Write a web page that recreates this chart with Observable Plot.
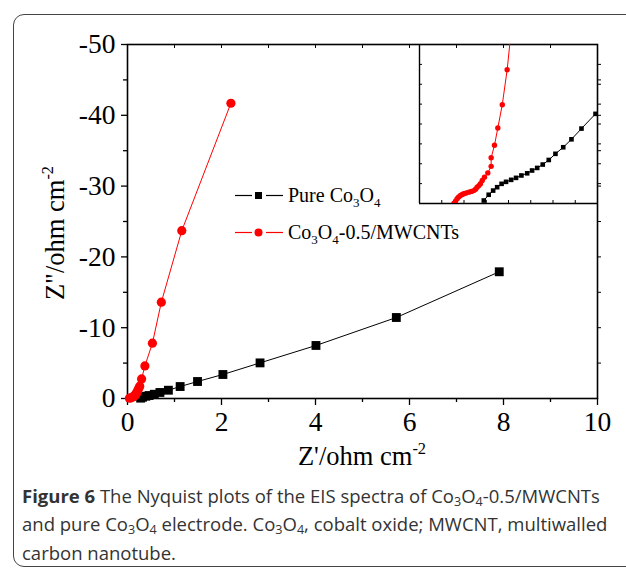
<!DOCTYPE html>
<html><head><meta charset="utf-8">
<script src="https://cdn.jsdelivr.net/npm/d3@7"></script>
<script src="https://cdn.jsdelivr.net/npm/@observablehq/plot@0.6"></script>
<style>
body{margin:0;background:#fff;}
#wrap{position:relative;width:626px;height:568px;overflow:hidden;font-family:"Liberation Serif",serif;}
#box{position:absolute;left:13px;top:14px;width:720px;height:553px;border:1.5px solid #444;border-radius:11px;box-sizing:border-box;}
#main{position:absolute;left:0;top:0;}
#inset{position:absolute;left:414px;top:39px;}
.lab{position:absolute;font-size:26.5px;white-space:nowrap;color:#000;line-height:1;}
.lab sup{font-size:0.62em;position:relative;top:-0.1em;vertical-align:top;}
#ylab{left:55px;top:233px;transform:translate(-50%,-50%) rotate(-90deg);}
#xlab{left:362px;top:456px;transform:translate(-50%,-50%);}
.leg{position:absolute;left:235px;font-size:20px;white-space:nowrap;display:flex;align-items:center;line-height:1;}
.leg svg{margin-right:5px;}
.leg sub{font-size:0.65em;position:relative;top:0.35em;vertical-align:baseline;}
#cap{position:absolute;left:22px;top:483px;font-family:"Open Sans",sans-serif;font-size:18.5px;line-height:25.3px;color:#333;white-space:nowrap;}
#cap sub{font-size:0.68em;vertical-align:baseline;position:relative;top:0.25em;}
</style></head>
<body>
<div id="wrap">
  <div id="box"></div>
  <div id="main"></div>
  <div id="inset"></div>
  <div class="lab" id="ylab">Z"/ohm cm<sup>-2</sup></div>
  <div class="lab" id="xlab">Z'/ohm cm<sup>-2</sup></div>
  <div class="leg" id="leg1" style="top:185px"></div>
  <div class="leg" id="leg2" style="top:222px"></div>
  <div id="cap"><b>Figure 6</b> The Nyquist plots of the EIS spectra of Co<sub>3</sub>O<sub>4</sub>-0.5/MWCNTs<br>and pure Co<sub>3</sub>O<sub>4</sub> electrode. Co<sub>3</sub>O<sub>4</sub>, cobalt oxide; MWCNT, multiwalled<br>carbon nanotube.</div>
</div>
<script>
// ---- main plot data (Z' in ohm cm^-2, Z'' in ohm cm^-2) ----
const seriesNames = ["Pure Co3O4", "Co3O4-0.5/MWCNTs"];
const blackX = [0.28, 0.32, 0.39, 0.46, 0.57, 0.69, 0.87, 1.12, 1.49, 2.03, 2.82, 4.01, 5.72, 7.91];
const blackY = [-0.05, -0.18, -0.32, -0.42, -0.6, -0.85, -1.17, -1.69, -2.40, -3.39, -5.03, -7.49, -11.44, -17.9];
const redX = [0.04, 0.08, 0.11, 0.13, 0.16, 0.175, 0.19, 0.2, 0.22, 0.24, 0.26, 0.30, 0.37, 0.53, 0.72, 1.155, 2.20];
const redY = [-0.05, -0.1, -0.2, -0.3, -0.4, -0.55, -0.7, -0.9, -1.17, -1.45, -1.74, -2.77, -4.6, -7.81, -13.6, -23.7, -41.7];
// ---- inset data (magnified view, arbitrary inset units) ----
const insetBlackX = [2.89, 3.11, 3.31, 3.49, 3.69, 3.89, 4.12, 4.34, 4.58, 4.84, 5.06, 5.29, 5.54, 5.81, 6.11, 6.46, 6.83, 7.28, 7.91];
const insetBlackY = [0.15, 0.44, 0.65, 0.82, 0.99, 1.09, 1.19, 1.29, 1.41, 1.52, 1.66, 1.79, 1.96, 2.19, 2.50, 2.83, 3.23, 3.77, 4.51];
const insetRedX = [1.54, 1.62, 1.69, 1.76, 1.84, 1.92, 1.99, 2.10, 2.22, 2.33, 2.44, 2.52, 2.59, 2.67, 2.74, 2.82, 2.92, 3.07, 3.22, 3.22, 3.37, 3.52, 3.72, 3.94, 4.24];
const insetRedY = [0.0, 0.12, 0.24, 0.33, 0.40, 0.45, 0.49, 0.53, 0.57, 0.61, 0.65, 0.72, 0.82, 0.90, 0.99, 1.16, 1.32, 1.54, 1.87, 2.30, 2.93, 3.80, 4.97, 6.73, 10.0];
// ---- ticks ----
const xMajor = [0, 2, 4, 6, 8, 10];
const xMinor = [1, 3, 5, 7, 9];
const xTop = [1, 2, 3, 4, 5, 6, 7, 8, 9];
const yMajor = [0, -10, -20, -30, -40, -50];
const yMinor = [-5, -15, -25, -35, -45];
const yRight = [-5, -10, -15, -20, -25, -30, -35, -40, -45];
const insetTicks = [1, 2, 3, 4, 5, 6, 7];

const black = blackX.map((x, i) => ({x, y: blackY[i]}));
const red = redX.map((x, i) => ({x, y: redY[i]}));
const iBlack = insetBlackX.map((x, i) => ({x, y: insetBlackY[i]}));
const iRed = insetRedX.map((x, i) => ({x, y: insetRedY[i]}));
const none = () => "";

const main = Plot.plot({
  width: 626, height: 470,
  marginLeft: 127, marginRight: 29, marginTop: 44, marginBottom: 72,
  x: {domain: [0, 10]},
  y: {domain: [0, -50]},
  style: {fontFamily: "Liberation Serif, serif", fontSize: "27.5px", color: "black", background: "transparent", overflow: "visible"},
  marks: [
    Plot.axisX({ticks: xMajor, tickSize: 7, tickPadding: 6, tickFormat: d => String(d), label: null, strokeWidth: 1.3}),
    Plot.axisX({ticks: xMinor, tickSize: 4, tickFormat: none, label: null, strokeWidth: 1.3}),
    Plot.axisX({ticks: xTop, anchor: "top", tickSize: 3, dy: 3, tickFormat: none, label: null, strokeWidth: 1}),
    Plot.axisY({ticks: yMajor, tickSize: 6, tickPadding: 6, tickFormat: d => String(d), label: null, strokeWidth: 1.3}),
    Plot.axisY({ticks: yMinor, tickSize: 4, tickFormat: none, label: null, strokeWidth: 1.3}),
    Plot.axisY({ticks: yRight, anchor: "right", tickSize: 3, tickFormat: none, label: null, strokeWidth: 1}),
    Plot.frame({stroke: "black", strokeWidth: 1.6}),
    Plot.line(black, {x: "x", y: "y", stroke: "black", strokeWidth: 1}),
    Plot.dot(black, {x: "x", y: "y", symbol: "square", fill: "black", r: 5}),
    Plot.line(red, {x: "x", y: "y", stroke: "#ff0000", strokeWidth: 1}),
    Plot.dot(red, {x: "x", y: "y", symbol: "circle", fill: "#ff0000", r: 4.6})
  ]
});
document.getElementById("main").appendChild(main);

const inset = Plot.plot({
  width: 188, height: 169,
  marginLeft: 5, marginRight: 5, marginTop: 5, marginBottom: 5,
  x: {domain: [0, 8]},
  y: {domain: [0, 8]},
  style: {background: "transparent", overflow: "visible"},
  marks: [
    Plot.ruleX([0], {stroke: "black", strokeWidth: 1.4}),
    Plot.ruleY([0], {stroke: "black", strokeWidth: 1.4}),
    Plot.axisY({ticks: insetTicks, anchor: "left", tickSize: 3, dx: 3, tickFormat: none, label: null}),
    Plot.axisY({ticks: insetTicks, anchor: "right", tickSize: 3, tickFormat: none, label: null}),
    Plot.axisX({ticks: insetTicks, anchor: "bottom", tickSize: 3, dy: -3, tickFormat: none, label: null}),
    Plot.line(iBlack, {x: "x", y: "y", stroke: "black", strokeWidth: 1, clip: true}),
    Plot.dot(iBlack, {x: "x", y: "y", symbol: "square", fill: "black", r: 2.6, clip: true}),
    Plot.line(iRed, {x: "x", y: "y", stroke: "#ff0000", strokeWidth: 1, clip: true}),
    Plot.dot(iRed, {x: "x", y: "y", symbol: "circle", fill: "#ff0000", r: 2.7, clip: true})
  ]
});
document.getElementById("inset").appendChild(inset);

function legendSym(color, square) {
  const m = square
    ? `<rect x="20" y="6" width="7" height="7" fill="${color}"/>`
    : `<circle cx="23.5" cy="9.5" r="4" fill="${color}"/>`;
  return `<svg width="48" height="19"><line x1="0" x2="17" y1="9.5" y2="9.5" stroke="${color}" stroke-width="1.2"/>${m}<line x1="31" x2="48" y1="9.5" y2="9.5" stroke="${color}" stroke-width="1.2"/></svg>`;
}
document.getElementById("leg1").innerHTML = legendSym("black", true) + `<span>Pure Co<sub>3</sub>O<sub>4</sub></span>`;
document.getElementById("leg2").innerHTML = legendSym("#ff0000", false) + `<span>Co<sub>3</sub>O<sub>4</sub>-0.5/MWCNTs</span>`;
</script>
</body></html>
